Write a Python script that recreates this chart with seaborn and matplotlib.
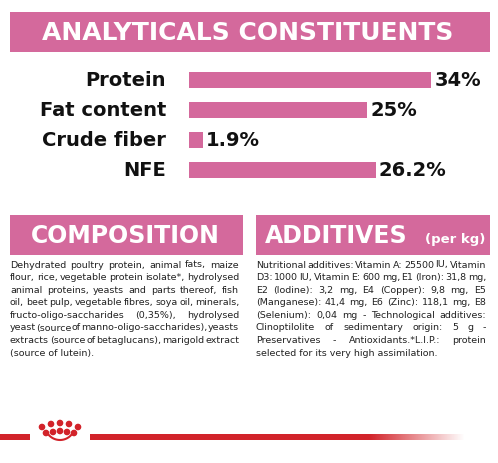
import matplotlib
matplotlib.use("Agg")
import matplotlib.pyplot as plt
import seaborn as sns
import pandas as pd
import numpy as np

categories = ["Protein", "Fat content", "Crude fiber", "NFE"]
values = [34, 25, 1.9, 26.2]
value_labels = ["34%", "25%", "1.9%", "26.2%"]

composition_lines = [
    "Dehydrated poultry protein, animal fats, maize",
    "flour, rice, vegetable protein isolate*, hydrolysed",
    "animal proteins, yeasts and parts thereof, fish",
    "oil, beet pulp, vegetable fibres, soya oil, minerals,",
    "fructo-oligo-saccharides (0,35%), hydrolysed",
    "yeast (source of manno-oligo-saccharides), yeasts",
    "extracts (source of betaglucans), marigold extract",
    "(source of lutein).",
]
additives_lines = [
    "Nutritional additives: Vitamin A: 25500 IU, Vitamin",
    "D3: 1000 IU, Vitamin E: 600 mg, E1 (Iron): 31,8 mg,",
    "E2 (Iodine): 3,2 mg, E4 (Copper): 9,8 mg, E5",
    "(Manganese): 41,4 mg, E6 (Zinc): 118,1 mg, E8",
    "(Selenium): 0,04 mg - Technological additives:",
    "Clinoptilolite of sedimentary origin: 5 g -",
    "Preservatives - Antioxidants.*L.I.P.: protein",
    "selected for its very high assimilation.",
]

PINK = "#d4699c"
RED = "#d2232a"
W, H = 498, 463
fig = plt.figure(figsize=(W / 100, H / 100), dpi=100)
bg = fig.add_axes([0, 0, 1, 1])
bg.set_xlim(0, W); bg.set_ylim(H, 0); bg.axis("off")

def rect(x0, y0, x1, y1, c=PINK):
    bg.add_patch(plt.Rectangle((x0, y0), x1 - x0, y1 - y0, color=c, lw=0))

rect(10, 12, 490, 52)
bg.text(248, 33, "ANALYTICALS CONSTITUENTS", color="white", fontsize=18,
        fontweight="bold", ha="center", va="center")
rect(10, 215, 243, 255)
bg.text(125, 236, "COMPOSITION", color="white", fontsize=17, fontweight="bold",
        ha="center", va="center")
rect(256, 215, 490, 255)
bg.text(265, 236, "ADDITIVES", color="white", fontsize=17, fontweight="bold",
        ha="left", va="center")
bg.text(485, 239, "(per kg)", color="white", fontsize=9.5, fontweight="bold",
        ha="right", va="center")

def justify(lines, x0, x1, y0, dy):
    r = fig.canvas.get_renderer()
    for i, line in enumerate(lines):
        y = y0 + i * dy
        words = line.split()
        if i == len(lines) - 1 or len(words) < 2:
            bg.text(x0, y, line, fontsize=6.8, color="#222222", va="center", ha="left")
            continue
        widths = []
        for w_ in words:
            t = bg.text(0, 0, w_, fontsize=6.8)
            widths.append(t.get_window_extent(renderer=r).width)
            t.remove()
        gap = (x1 - x0 - sum(widths)) / (len(words) - 1)
        x = x0
        for w_, wd in zip(words, widths):
            bg.text(x, y, w_, fontsize=6.8, color="#222222", va="center", ha="left")
            x += wd + gap

justify(composition_lines, 10, 239, 265, 12.6)
justify(additives_lines, 256, 486, 265, 12.6)

# footer
rect(0, 434, 30, 440, RED)
grad = np.ones((1, 300, 4))
grad[..., :3] = matplotlib.colors.to_rgb(RED)
xg = np.linspace(90, 465, 300)
grad[0, :, 3] = np.clip(1 - (xg - 370) / 95, 0, 1)
bg.imshow(grad, extent=(90, 465, 440, 434), aspect="auto", interpolation="bilinear")
bg.set_xlim(0, W); bg.set_ylim(H, 0)
for (cx, cy) in [(42, 427), (51, 424), (60, 423), (69, 424), (78, 427),
                 (46, 433), (53, 432), (60, 431), (67, 432), (74, 433)]:
    bg.add_patch(plt.Circle((cx, cy), 2.6, color=RED))
th = np.linspace(0.15 * np.pi, 0.85 * np.pi, 30)
bg.plot(60 + 15 * np.cos(th), 425 + 15 * np.sin(th), color=RED, lw=1.5)

# bars
ax = fig.add_axes([189 / W, 1 - 185 / H, 300 / W, 120 / H])
df = pd.DataFrame({"cat": categories, "val": values})
sns.barplot(data=df, x="val", y="cat", ax=ax, color=PINK, saturation=1, width=0.53, orient="h")
ax.set_xlim(0, 300 / 7.12)
ax.axis("off")
for i, (v, lab) in enumerate(zip(values, value_labels)):
    ax.text(v + 0.45, i, lab, fontsize=14, fontweight="bold", va="center", ha="left", color="#111111")
    bg.text(166, 80 + 30 * i, categories[i], fontsize=14, fontweight="bold", va="center", ha="right", color="#111111")

fig.savefig("out.png", dpi=100)
